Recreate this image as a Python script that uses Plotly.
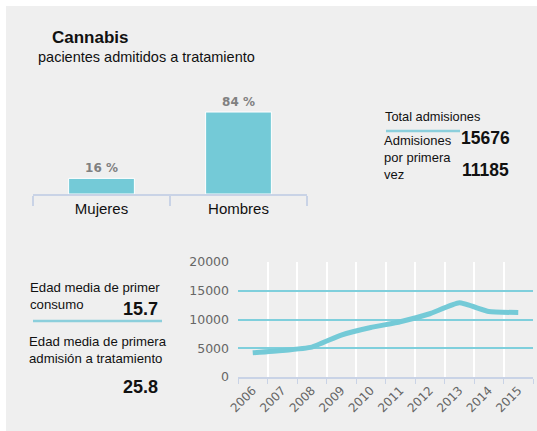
import plotly.graph_objects as go

# datos
sexo = ["Mujeres", "Hombres"]
porcentaje = [16, 84]
porcentaje_txt = ["<b>16 %</b>", "<b>84 %</b>"]

anios = ["2006", "2007", "2008", "2009", "2010", "2011", "2012", "2013", "2014", "2015"]
admisiones = [4200, 4600, 5200, 7300, 8600, 9600, 11000, 12900, 11400, 11200]

total_admisiones = "15676"
primera_vez = "11185"
edad_consumo = "15.7"
edad_admision = "25.8"

W, H = 537, 431
AZUL = "#74cad7"
FONDO = "#efefef"
FONT = "Liberation Sans, Arial, sans-serif"


def px_x(x):
    return x / W


def px_y(y):
    return 1 - y / H


fig = go.Figure()

fig.add_trace(go.Bar(
    x=sexo, y=porcentaje, text=porcentaje_txt, textposition="outside",
    textfont=dict(color="#808080", size=12, family="DejaVu Sans"),
    marker=dict(color=AZUL, line=dict(color="white", width=1)),
    width=0.48, xaxis="x", yaxis="y", cliponaxis=False, showlegend=False,
))

fig.add_trace(go.Scatter(
    x=anios, y=admisiones, mode="lines",
    line=dict(color=AZUL, width=5, shape="spline", smoothing=0.4),
    xaxis="x2", yaxis="y2", showlegend=False,
))

fig.update_layout(
    width=W, height=H,
    margin=dict(l=0, r=0, t=0, b=0, autoexpand=False),
    paper_bgcolor=FONDO, plot_bgcolor=FONDO,
    font=dict(family=FONT, color="#222"),
    xaxis=dict(domain=[px_x(33), px_x(307)], range=[-0.5, 1.5], automargin=False,
               showgrid=False, showline=True, linecolor="#c9d3e6", linewidth=1.5,
               ticks="outside", ticklen=10, tickcolor="#c9d3e6", tickwidth=1.5,
               tickson="boundaries", tickfont=dict(size=15, color="#111"),
               fixedrange=True),
    yaxis=dict(domain=[px_y(194), px_y(96.4)], range=[0, 100], visible=False,
               automargin=False),
    xaxis2=dict(domain=[px_x(238), px_x(533)], anchor="y2", automargin=False,
                range=[-0.5, 9.5], tickson="boundaries",
                showgrid=True, gridcolor="white", gridwidth=1.5,
                showline=True, linecolor="#c9d3e6", linewidth=1.5,
                ticks="outside", ticklen=5, tickcolor="#c9d3e6",
                tickangle=-45, tickfont=dict(size=12, color="#666", family="DejaVu Sans")),
    yaxis2=dict(domain=[px_y(377), px_y(262)], anchor="x2", range=[0, 20000],
                automargin=False, tickvals=[0, 5000, 10000, 15000, 20000],
                tickformat="d",
                showgrid=True, gridcolor="#7fcfdc", gridwidth=1.5,
                zeroline=False, showline=False, ticks="", ticklabelstandoff=8,
                tickfont=dict(size=12.5, color="#666", family="DejaVu Sans")),
)

# marco blanco arriba e izquierda
fig.add_shape(type="rect", xref="paper", yref="paper", x0=0, x1=1, y0=px_y(6), y1=1,
              fillcolor="white", line_width=0, layer="below")
fig.add_shape(type="rect", xref="paper", yref="paper", x0=0, x1=px_x(6), y0=0, y1=1,
              fillcolor="white", line_width=0, layer="below")

# lineas separadoras
fig.add_shape(type="line", xref="paper", yref="paper", x0=px_x(386), x1=px_x(460),
              y0=px_y(131), y1=px_y(131), line=dict(color="#8ccfdc", width=2.5))
fig.add_shape(type="line", xref="paper", yref="paper", x0=px_x(33), x1=px_x(162),
              y0=px_y(321), y1=px_y(321), line=dict(color="#8ccfdc", width=2.5))


def texto(x, y, t, size=12, bold=False, xanchor="left", color="#111"):
    if bold:
        t = f"<b>{t}</b>"
    fig.add_annotation(x=px_x(x), y=px_y(y), xref="paper", yref="paper",
                       text=t, showarrow=False, xanchor=xanchor, yanchor="middle",
                       align="left", font=dict(size=size, color=color, family=FONT))


texto(50, 37, "Cannabis", size=17, bold=True)
texto(36, 57, "pacientes admitidos a tratamiento", size=14.5)

texto(383, 116, "Total admisiones", size=12.8)
texto(459, 138, total_admisiones, size=17.5, bold=True)
texto(382, 157, "Admisiones<br>por primera<br>vez", size=13)
texto(460, 170, primera_vez, size=17.5, bold=True)

texto(28, 296, "Edad media de primer<br>consumo", size=13.2)
texto(121, 309, edad_consumo, size=18, bold=True)
texto(27, 350, "Edad media de primera<br>admisión a tratamiento", size=13.2)
texto(121, 387, edad_admision, size=18, bold=True)

# sin margen del body para que la figura quede en (0, 0)
fig.write_html("out.html", config={"displayModeBar": False},
               post_script="document.body.style.margin='0';")
